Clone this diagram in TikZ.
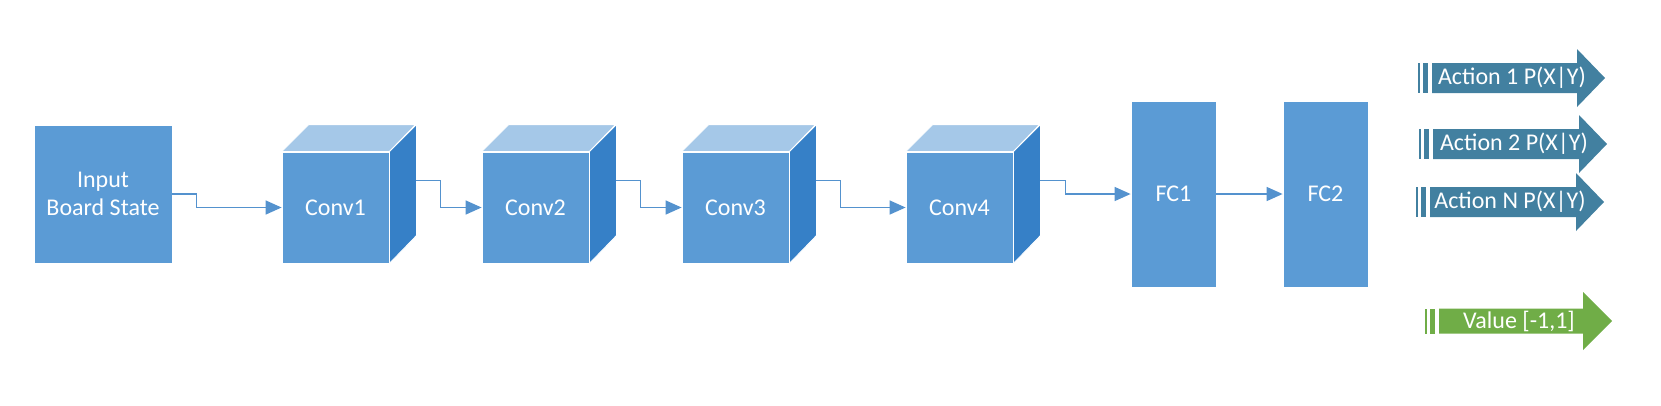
\documentclass[tikz,border=0pt]{standalone}
\usepackage{fontspec}
\setmainfont{Carlito}
\usetikzlibrary{arrows.meta}
\definecolor{boxblue}{RGB}{91,155,213}
\definecolor{topblue}{RGB}{165,200,232}
\definecolor{sideblue}{RGB}{54,128,199}
\definecolor{lineblue}{RGB}{84,146,206}
\definecolor{actionteal}{RGB}{66,128,160}
\definecolor{valuegreen}{RGB}{112,173,71}

\begin{document}
\begin{tikzpicture}[x=0.75pt,y=-0.75pt,font=\fontsize{18}{21}\selectfont]

    \useasboundingbox (0,0) rectangle (1661,405);

    \tikzset{
    % flat boxes and the front faces of the cubes
    block/.style={rectangle, draw=white, line width=0.6pt, fill=boxblue, text=white, inner sep=0, align=center},
    inputbox/.style={block, minimum width=103.5pt, minimum height=103.5pt},
    convbox/.style={block, minimum width=80.25pt, minimum height=83.25pt},
    fcbox/.style={block, minimum width=63.75pt, minimum height=139.5pt},
    % the two faces seen in depth
    topface/.style={fill=topblue, draw=white, line width=0.6pt},
    sideface/.style={fill=sideblue, draw=white, line width=0.6pt},
    link/.style={draw=lineblue, line width=1.1pt, -{Triangle[length=12pt,width=10.5pt]}},
    action/.style={fill=actionteal},
    value/.style={fill=valuegreen},
    outtext/.style={text=white, inner sep=0}
    }

    % Layers

    \node at (103,194)[inputbox] (input) {Input\\Board State};

    \node at (335.5,207.5)[convbox] (conv1) {Conv1};
    \draw[topface] (conv1.north west) -- ++(27,-27) -- ++(107,0) -- (conv1.north east) -- cycle;
    \draw[sideface] (conv1.north east) -- ++(27,-27) -- ++(0,111) -- (conv1.south east) -- cycle;
    \coordinate (conv1 out) at ([shift={(27,-27)}]conv1.east);

    \node at (535.5,207.5)[convbox] (conv2) {Conv2};
    \draw[topface] (conv2.north west) -- ++(27,-27) -- ++(107,0) -- (conv2.north east) -- cycle;
    \draw[sideface] (conv2.north east) -- ++(27,-27) -- ++(0,111) -- (conv2.south east) -- cycle;
    \coordinate (conv2 out) at ([shift={(27,-27)}]conv2.east);

    \node at (735.5,207.5)[convbox] (conv3) {Conv3};
    \draw[topface] (conv3.north west) -- ++(27,-27) -- ++(107,0) -- (conv3.north east) -- cycle;
    \draw[sideface] (conv3.north east) -- ++(27,-27) -- ++(0,111) -- (conv3.south east) -- cycle;
    \coordinate (conv3 out) at ([shift={(27,-27)}]conv3.east);

    \node at (959.5,207.5)[convbox] (conv4) {Conv4};
    \draw[topface] (conv4.north west) -- ++(27,-27) -- ++(107,0) -- (conv4.north east) -- cycle;
    \draw[sideface] (conv4.north east) -- ++(27,-27) -- ++(0,111) -- (conv4.south east) -- cycle;
    \coordinate (conv4 out) at ([shift={(27,-27)}]conv4.east);

    \node at (1173.5,194)[fcbox] (fc1) {FC1};
    \node at (1325.5,194)[fcbox] (fc2) {FC2};

    % Links

    \draw[link] (input.east) -- ++(24,0) |- (conv1.west);
    \draw[link] (conv1 out) -- ++(24,0) |- (conv2.west);
    \draw[link] (conv2 out) -- ++(24,0) |- (conv3.west);
    \draw[link] (conv3 out) -- ++(24,0) |- (conv4.west);
    \draw[link] (conv4 out) -- ++(25,0) |- (fc1.west);
    \draw[link] (fc1) -- (fc2);

    % Outputs

    \fill[action] (1432,63) -- (1577,63) -- (1577,49) -- (1605,78) -- (1577,107) -- (1577,93) -- (1432,93) -- cycle;
    \fill[action] (1418,63) rectangle (1420,93);
    \fill[action] (1423,63) rectangle (1428,93);
    \node at (1512,78)[outtext] (act1) {Action 1 P(X|Y)};

    \fill[action] (1433,129) -- (1579,129) -- (1579,115) -- (1607,144) -- (1579,173) -- (1579,159) -- (1433,159) -- cycle;
    \fill[action] (1419,129) rectangle (1421,159);
    \fill[action] (1424,129) rectangle (1429,159);
    \node at (1514,144)[outtext] (act2) {Action 2 P(X|Y)};

    \fill[action] (1430,187) -- (1576,187) -- (1576,173) -- (1604,202) -- (1576,231) -- (1576,217) -- (1430,217) -- cycle;
    \fill[action] (1416,187) rectangle (1418,217);
    \fill[action] (1421,187) rectangle (1426,217);
    \node at (1510,202)[outtext] (actn) {Action N P(X|Y)};

    \fill[value] (1439,308.5) -- (1583,308.5) -- (1583,292) -- (1612,321) -- (1583,350) -- (1583,333.5) -- (1439,333.5) -- cycle;
    \fill[value] (1425,308.5) rectangle (1427,333.5);
    \fill[value] (1430,308.5) rectangle (1435,333.5);
    \node at (1519,321)[outtext] (val) {Value [-1,1]};

\end{tikzpicture}
\end{document}
